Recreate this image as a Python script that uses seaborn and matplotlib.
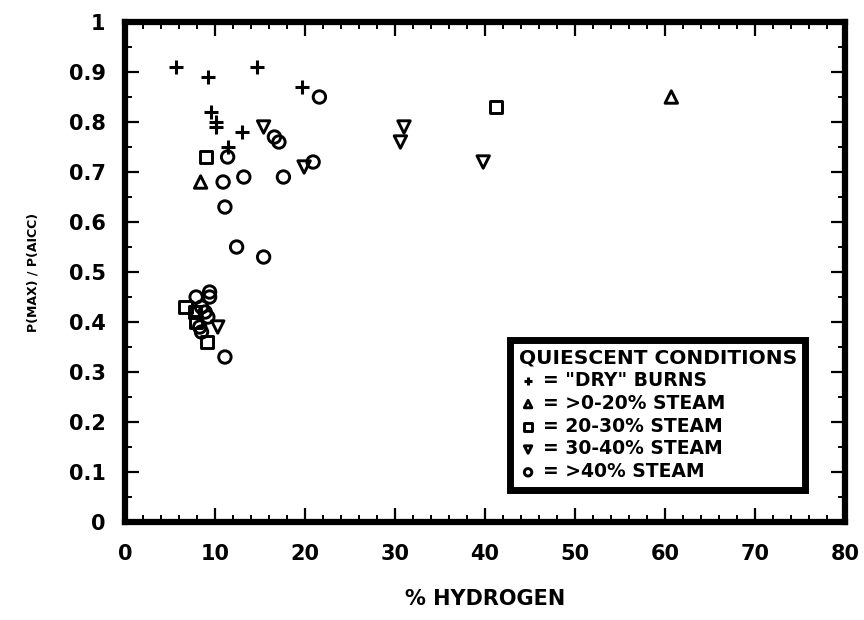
import matplotlib
matplotlib.use("Agg")
import pandas as pd
import matplotlib.pyplot as plt
import seaborn as sns
from matplotlib.ticker import MultipleLocator

sns.set_theme(style="white")
plt.rcParams['font.family'] = ['DejaVu Sans']
plt.rcParams['text.color'] = 'black'
plt.rcParams['xtick.color'] = 'black'
plt.rcParams['ytick.color'] = 'black'
plt.rcParams['axes.labelcolor'] = 'black'

# "DRY" burns
dry_x = [5.7, 9.2, 14.7, 19.7, 9.5, 10.1, 10.1, 13.0, 11.4]
dry_y = [0.91, 0.89, 0.91, 0.87, 0.82, 0.80, 0.79, 0.78, 0.75]
# >0-20% steam
s0_20_x = [8.4, 60.7]
s0_20_y = [0.68, 0.85]
# 20-30% steam
s20_30_x = [9.0, 41.2, 6.7, 7.8, 7.9, 9.1]
s20_30_y = [0.73, 0.83, 0.43, 0.42, 0.40, 0.36]
# 30-40% steam
s30_40_x = [15.4, 19.9, 31.0, 30.6, 39.8, 10.3]
s30_40_y = [0.79, 0.71, 0.79, 0.76, 0.72, 0.39]
# >40% steam
s40_x = [21.6, 16.6, 17.1, 11.4, 20.9, 13.2, 10.9, 17.6, 11.1, 12.4, 15.4,
         7.9, 9.4, 9.4, 8.5, 8.9, 9.2, 8.3, 8.5, 11.1]
s40_y = [0.85, 0.77, 0.76, 0.73, 0.72, 0.69, 0.68, 0.69, 0.63, 0.55, 0.53,
         0.45, 0.46, 0.45, 0.43, 0.42, 0.41, 0.39, 0.38, 0.33]

labels = ['= "DRY" BURNS', '= >0-20% STEAM', '= 20-30% STEAM',
          '= 30-40% STEAM', '= >40% STEAM']
groups = [(dry_x, dry_y, '+'), (s0_20_x, s0_20_y, '^'), (s20_30_x, s20_30_y, 's'),
          (s30_40_x, s30_40_y, 'v'), (s40_x, s40_y, 'o')]

fig = plt.figure(figsize=(8.64, 6.2), dpi=100)
ax = fig.add_axes([0.1447, 0.158, 0.8333, 0.8065])

for (gx, gy, m), lab in zip(groups, labels):
    df = pd.DataFrame({'h2': gx, 'ratio': gy})
    if m == '+':
        sns.scatterplot(data=df, x='h2', y='ratio', marker='+', s=110, color='black',
                        linewidth=2.2, label=lab, ax=ax)
    else:
        sns.scatterplot(data=df, x='h2', y='ratio', marker=m, s=80, facecolor='none',
                        edgecolor='black', linewidth=2.1, label=lab, ax=ax)

ax.set_xlim(0, 80)
ax.set_ylim(0, 1)
ax.xaxis.set_major_locator(MultipleLocator(10))
ax.xaxis.set_minor_locator(MultipleLocator(2))
ax.yaxis.set_minor_locator(MultipleLocator(0.05))
ax.set_yticks([i / 10 for i in range(11)])
ax.set_yticklabels(['0'] + [f'0.{i}' for i in range(1, 10)] + ['1'])
ax.tick_params(which='both', direction='in', top=True, right=True, color='black',
               bottom=True, left=True)
ax.tick_params(which='major', length=10, width=1.6, labelsize=15)
ax.tick_params(axis='x', which='major', pad=16)
ax.tick_params(axis='y', which='major', pad=14)
ax.tick_params(which='minor', length=5, width=1.4)
for lbl in ax.get_xticklabels() + ax.get_yticklabels():
    lbl.set_fontweight('bold')
for sp in ax.spines.values():
    sp.set_linewidth(4.5)
    sp.set_color('black')
    sp.set_visible(True)

ax.set_xlabel('% HYDROGEN', fontsize=15, fontweight='bold', labelpad=18)
ax.set_ylabel('P(MAX) / P(AICC)', fontsize=9, fontweight='bold', labelpad=21)

leg = ax.legend(title='QUIESCENT CONDITIONS', loc='lower right',
                bbox_to_anchor=(0.958, 0.046), frameon=True, fancybox=False,
                framealpha=1, alignment='left', handletextpad=0.3,
                handlelength=1.0, borderpad=0.45, labelspacing=0.2,
                markerscale=0.6, prop={'weight': 'bold', 'size': 13.5},
                title_fontproperties={'weight': 'bold', 'size': 14.5})
leg.get_frame().set_edgecolor('black')
leg.get_frame().set_linewidth(5)
leg.get_title().set_color('black')

fig.savefig('out.png', dpi=100)
